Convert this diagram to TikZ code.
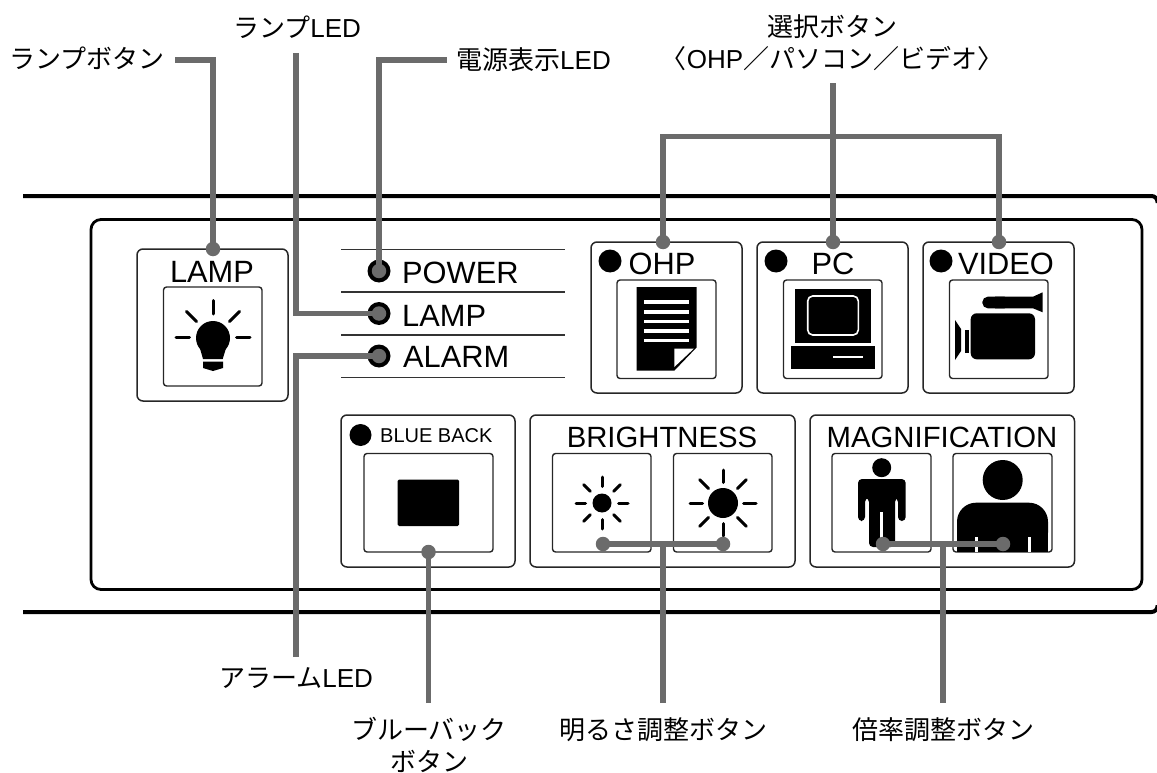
\documentclass[tikz,border=0pt]{standalone}
\usepackage{fontspec}
\setmainfont{Liberation Sans}
\newfontfamily\jp{Noto Sans CJK JP}
\newcommand{\lat}[1]{{\rmfamily #1}}
\tikzset{
 x=1pt,y=-1pt,
 panel/.style={draw=black,line width=2.8pt,rounded corners=10pt},
 outerrule/.style={draw=black,line width=4pt,rounded corners=6pt},
 group/.style={draw=black!85,line width=1.5pt,rounded corners=6pt},
 key/.style={draw=black!85,line width=1.4pt,rounded corners=3pt},
 thinrule/.style={draw=black!80,line width=1.3pt},
 ray/.style={draw=black,line width=3pt,line cap=round},
 lead/.style={draw=black!58,line width=5.2pt,line join=miter},
 pin/.style={circle,fill=black!58,inner sep=0pt,minimum size=14.5pt},
 bigtxt/.style={font=\fontsize{30.8}{31}\selectfont,inner sep=0pt,anchor=base},
 midtxt/.style={font=\fontsize{29.3}{31}\selectfont,inner sep=0pt,anchor=base},
 jptxt/.style={font=\jp\fontsize{26}{32}\selectfont,inner sep=0pt,align=center},
 ledring/.style={circle,fill=black,inner sep=0pt,minimum size=23pt},
}
\begin{document}
\begin{tikzpicture}
\useasboundingbox (0,0) rectangle (1157,773);
\path[outerrule] (23,196) -- (1157.5,196) -- (1157.5,203);
\path[outerrule] (23,612) -- (1157.5,612) -- (1157.5,605);
\path[panel] (91,219.5) rectangle (1142,589.5);
% lamp
\path[group] (137,249) rectangle (288,401);
\path[key] (163.5,287) rectangle (262,386);
\node[bigtxt] (tlamp) at (212,282) {LAMP};
\fill (213,338) circle (17);
\fill (199,345) -- (227,345) -- (222.7,359) -- (203,359) -- cycle;
\fill (203,361.7) -- (223,361.7) -- (223,368) -- (213,371) -- (203,368) -- cycle;
\draw[ray] (213,300.5) -- (213,314);
\draw[ray] (176,337.5) -- (189.5,337.5);
\draw[ray] (236.5,337.5) -- (250,337.5);
\draw[ray] (186.5,311.5) -- (196.5,321.5);
\draw[ray] (239.5,311.5) -- (229.5,321.5);
% LEDs
\foreach \yy in {249.5,292,335,377.5} \draw[thinrule] (341,\yy) -- (565,\yy);
\node[ledring] (l1) at (379,271) {};
\node[ledring] (l2) at (379,313.5) {};
\node[ledring] (l3) at (379,356) {};
\node[bigtxt,anchor=base west] (tpower) at (402,283) {POWER};
\node[bigtxt,anchor=base west] (tl2) at (402,326) {LAMP};
\node[bigtxt,anchor=base west] (tl3) at (403,367) {ALARM};
% select boxes
\path[group] (591,242) rectangle (742,393);
\path[key] (617,280) rectangle (716,378.5);
\path[group] (757,242) rectangle (908,393);
\path[key] (783.5,280) rectangle (882,378.5);
\path[group] (923,242) rectangle (1074,393);
\path[key] (949.5,280) rectangle (1048,378.5);
\fill (610,261) circle (11.5);
\fill (776,261) circle (11.5);
\fill (941,261) circle (11.5);
\node[bigtxt] (tohp) at (662,274) {OHP};
\node[bigtxt] (tpc) at (833,274) {PC};
\node[bigtxt] (tvid) at (1006,274) {VIDEO};
% doc icon
\fill (636.7,287) -- (696.7,287) -- (696.7,347.3) -- (674.3,370.7) -- (636.7,370.7) -- cycle;
\foreach \yy in {302,311.7,321.3,331,340.5} \fill[white] (644,\yy-1.8) rectangle (689.3,\yy+1.8);
\fill[white] (674.3,348.5) -- (694,348.5) -- (674.3,367) -- cycle;
% pc icon
\fill (795,289) rectangle (871,342.7);
\draw[white,line width=1.6pt,rounded corners=5pt] (807.7,296) rectangle (858.3,335);
\fill (791,346) rectangle (875,369);
\fill[white] (832.7,355.8) rectangle (863.3,358.3);
% camera icon
\fill[rounded corners=6pt] (970.7,313.3) rectangle (1035,359.3);
\fill[rounded corners=5.5pt] (982.3,296.7) rectangle (1010,308.3);
\fill (995,296.7) -- (1033,296.7) -- (1042.7,292.3) -- (1042.7,312.3) -- (1033,308.3) -- (995,308.3) -- cycle;
\fill (965,330) rectangle (969.3,352.7);
\fill (955,320) -- (961,329) -- (961,351) -- (955,360) -- cycle;
% blue back
\path[group] (341,415) rectangle (515,567);
\path[key] (364,453.5) rectangle (493,552);
\fill[rounded corners=1.5pt] (397.5,479.5) rectangle (459,526);
\fill (360.5,435) circle (11);
\node[font=\fontsize{20}{22}\selectfont,inner sep=0pt,anchor=base west] (tbb) at (380,442.5) {BLUE BACK};
% brightness
\path[group] (530,415) rectangle (795,567);
\path[key] (552.5,453.5) rectangle (651,552);
\path[key] (673.5,453.5) rectangle (772,552);
\node[midtxt] (tbr) at (662,447.5) {BRIGHTNESS};
\fill (602,503) circle (9.5);
\foreach \a in {0,45,...,315} \draw[ray] (602,503) ++(\a:16.5) -- ++(\a:9.5);
\fill (723,503) circle (15);
\foreach \a in {0,45,...,315} \draw[ray] (723,503) ++(\a:20.5) -- ++(\a:12.5);
% magnification
\path[group] (810,415) rectangle (1074.5,567);
\path[key] (832,453.5) rectangle (931,552);
\path[key] (953,453.5) rectangle (1052,552);
\node[midtxt] (tmag) at (942,447.5) {MAGNIFICATION};
\fill (881.7,467.7) circle (9.5);
\fill[rounded corners=4pt] (858,521) -- (858,479) -- (905.7,479) -- (905.7,521) -- (898,521) -- (898,498) -- (895,498) -- (895,547) -- (869,547) -- (869,498) -- (865,498) -- (865,521) -- cycle;
\fill[white] (880,512) rectangle (883,548);
\fill (1002.7,480) circle (20);
\fill[rounded corners=19pt] (957,551.5) -- (957,502.7) -- (1048,502.7) -- (1048,551.5) -- cycle;
\fill (957,530) rectangle (1048,551.5);
\fill[white] (975,537) rectangle (978,551.5);
\fill[white] (1028,537) rectangle (1030.7,551.5);
% leaders
\coordinate (a1) at (213,249); \coordinate (b1) at (175,60);
\coordinate (a2) at (379,271); \coordinate (b2) at (446.5,60);
\coordinate (b3) at (296,53); \coordinate (b4) at (296,657);
\coordinate (p5) at (428.5,552); \coordinate (b5) at (428.5,703);
\coordinate (p6) at (603,544); \coordinate (p7) at (723,544); \coordinate (b6) at (663,703);
\coordinate (p8) at (883,544); \coordinate (p9) at (1003,544); \coordinate (b7) at (943,703);
\coordinate (p10) at (663,242); \coordinate (p11) at (833,242); \coordinate (p12) at (999,242); \coordinate (b8) at (833,83);
\draw[lead] (b1) -| (a1);
\draw[lead] (b2) -| (a2);
\draw[lead] (b3) |- (l2.center);
\draw[lead] (b4) |- (l3.center);
\draw[lead] (b5) -- (p5);
\draw[lead] (p6) -- (p7);
\draw[lead] (b6) -- (b6 |- p6);
\draw[lead] (p8) -- (p9);
\draw[lead] (b7) -- (b7 |- p8);
\draw[lead] (p10) |- (p12 |- 0,136.5) -- (p12);
\draw[lead] (p11) -- (b8);
\foreach \c in {a1,p5,p6,p7,p8,p9,p10,p11,p12} \node[pin] at (\c) {};
\foreach \c in {l1,l2,l3} \node[pin] at (\c) {};
% labels
\node[jptxt,anchor=west] (j1) at (9,58) {ランプボタン};
\node[jptxt] (j2) at (297,27) {ランプ\lat{LED}};
\node[jptxt,anchor=west] (j3) at (456,60) {電源表示\lat{LED}};
\node[jptxt] (j4) at (832,43) {選択ボタン\\〈\lat{OHP}／パソコン／ビデオ〉};
\node[jptxt] (j5) at (296,678) {アラーム\lat{LED}};
\node[jptxt] (j6) at (429,745) {ブルーバック\\ボタン};
\node[jptxt] (j7) at (663,730) {明るさ調整ボタン};
\node[jptxt] (j8) at (943,730) {倍率調整ボタン};
\end{tikzpicture}
\end{document}
